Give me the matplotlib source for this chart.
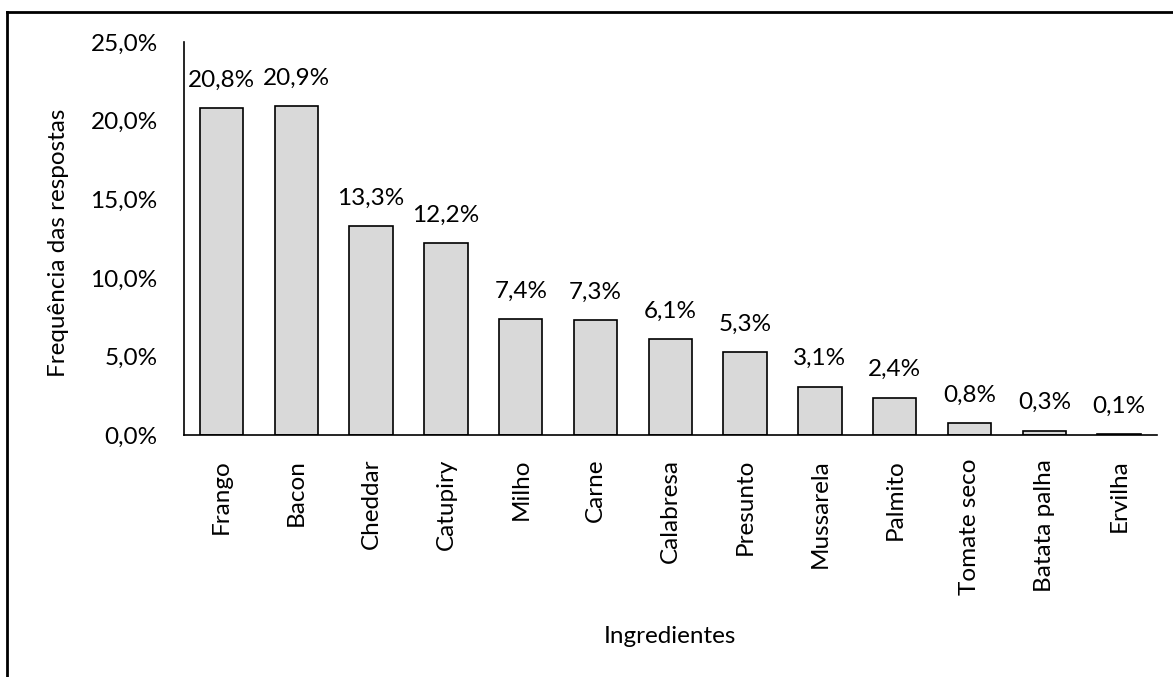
import matplotlib.pyplot as plt
from matplotlib.lines import Line2D
from matplotlib.ticker import FuncFormatter

ingredientes = ['Frango', 'Bacon', 'Cheddar', 'Catupiry', 'Milho', 'Carne', 'Calabresa',
                'Presunto', 'Mussarela', 'Palmito', 'Tomate seco', 'Batata palha', 'Ervilha']
freq = [20.8, 20.9, 13.3, 12.2, 7.4, 7.3, 6.1, 5.3, 3.1, 2.4, 0.8, 0.3, 0.1]

plt.rcParams['font.family'] = ['Lato', 'DejaVu Sans']
fs = 17.5

fig = plt.figure(figsize=(11.73, 6.77), dpi=100)
ax = fig.add_axes([0.157, 0.357, 0.829, 0.581])

x = range(len(ingredientes))
ax.bar(x, freq, width=0.58, color='#d9d9d9', edgecolor='black', linewidth=1.2)
for i, v in zip(x, freq):
    ax.text(i, v + 1.1, ('%.1f%%' % v).replace('.', ','), ha='center', va='bottom', fontsize=fs)

ax.set_xlim(-0.5, len(ingredientes) - 0.5)
ax.set_ylim(0, 25)
ax.set_yticks([0, 5, 10, 15, 20, 25])
ax.yaxis.set_major_formatter(FuncFormatter(lambda v, p: ('%.1f%%' % v).replace('.', ',')))
ax.set_xticks(list(x))
ax.set_xticklabels(ingredientes, rotation=90)
ax.tick_params(axis='both', length=0, labelsize=fs)
ax.tick_params(axis='x', pad=17)
ax.tick_params(axis='y', pad=19)

for s in ['top', 'right']:
    ax.spines[s].set_visible(False)
ax.spines['left'].set_linewidth(1.2)
ax.spines['bottom'].set_linewidth(1.2)

fig.text(0.05, 0.642, 'Frequência das respostas', rotation=90, ha='center', va='center', fontsize=fs)
fig.text(0.571, 0.06, 'Ingredientes', ha='center', va='center', fontsize=fs)

# frame lines (top and left only visible)
fig.add_artist(Line2D([0.006, 1.0], [0.983, 0.983], transform=fig.transFigure, color='black', lw=2))
fig.add_artist(Line2D([0.006, 0.006], [0.0, 0.983], transform=fig.transFigure, color='black', lw=2))

fig.savefig('out.png', dpi=100)
